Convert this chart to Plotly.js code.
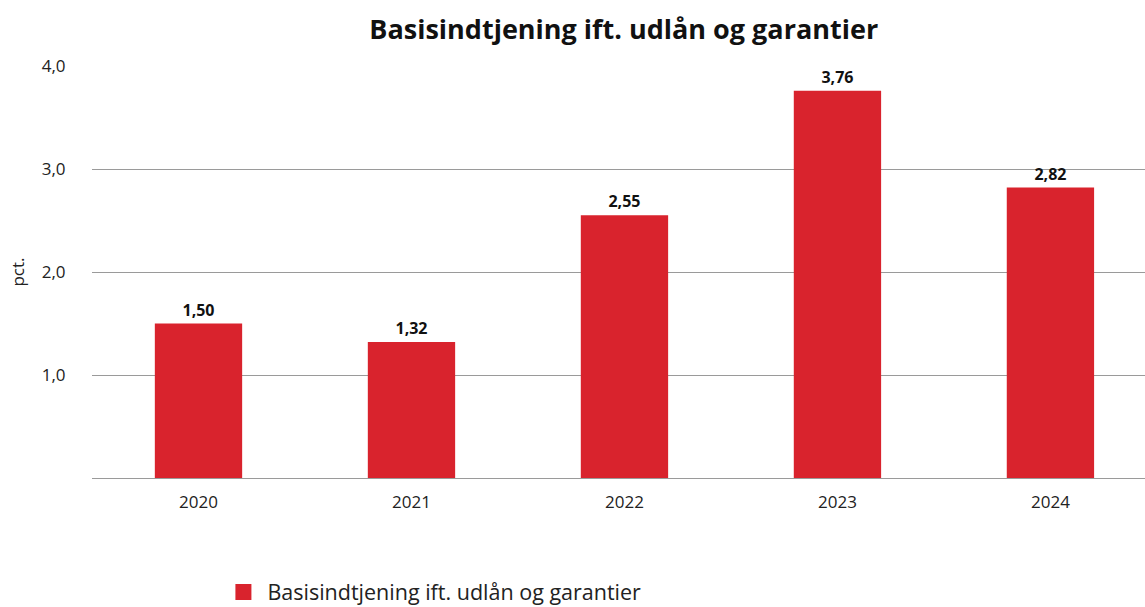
<!DOCTYPE html>
<html>
<head>
<meta charset="utf-8">
<script src="https://cdn.plot.ly/plotly-3.0.1.min.js"></script>
<style>html,body{margin:0;padding:0;background:#fff;}#chart{width:1145px;height:607px;}</style>
</head>
<body>
<div id="chart"></div>
<script>
const years = ["2020", "2021", "2022", "2023", "2024"];
const values = [1.50, 1.32, 2.55, 3.76, 2.82];
const seriesName = "Basisindtjening ift. udlån og garantier";
const yTickVals = [1, 2, 3, 4];
const yTickText = ["1,0", "2,0", "3,0", "4,0"];

const font = "Open Sans, Noto Sans, sans-serif";
const red = "#d9232d";

Plotly.newPlot("chart", [{
  type: "bar",
  x: years,
  y: values,
  name: seriesName,
  showlegend: false,
  width: 0.41,
  marker: {color: red},
  text: values.map(v => v.toFixed(2).replace(".", ",")),
  textposition: "outside",
  cliponaxis: false,
  textfont: {family: font, size: 16, color: "#111", weight: "bold"},
  hoverinfo: "x+y"
}, {
  type: "scatter",
  mode: "markers",
  x: [null], y: [null],
  name: seriesName,
  showlegend: true,
  marker: {symbol: "square", size: 17, color: red}
}], {
  width: 1145, height: 607,
  margin: {l: 92, r: 0, t: 66, b: 129, autoexpand: false},
  paper_bgcolor: "#fff", plot_bgcolor: "#fff",
  separators: ",.",
  font: {family: font, size: 17, color: "#222"},
  title: {text: "<b>Basisindtjening ift. udlån og garantier</b>", font: {family: font, size: 27, color: "#111"},
    x: 0.505, xref: "paper", xanchor: "center", y: 0.952, yref: "container", yanchor: "middle"},
  xaxis: {type: "category", range: [-0.5, 4.444], showgrid: false, zeroline: false, showline: false, automargin: false,
    ticks: "outside", ticklen: 9, tickcolor: "rgba(0,0,0,0)", tickfont: {family: font, size: 17, color: "#222"}},
  yaxis: {range: [0, 4], tickvals: yTickVals, ticktext: yTickText, showgrid: true, gridcolor: "#9a9a9a", gridwidth: 1,
    zeroline: true, zerolinecolor: "#9a9a9a", zerolinewidth: 1, showline: false, automargin: false,
    ticks: "outside", ticklen: 22, tickcolor: "rgba(0,0,0,0)", tickfont: {family: font, size: 17, color: "#222"},
    title: {text: "pct.", font: {family: font, size: 17, color: "#222"}, standoff: 12}},
  showlegend: true,
  legend: {orientation: "h", x: 0.121, xanchor: "left", y: -0.277, yanchor: "middle",
    font: {family: font, size: 21.5, color: "#222"}, itemwidth: 38},
  bargap: 0.59
}, {displayModeBar: false, staticPlot: true});
</script>
</body>
</html>
